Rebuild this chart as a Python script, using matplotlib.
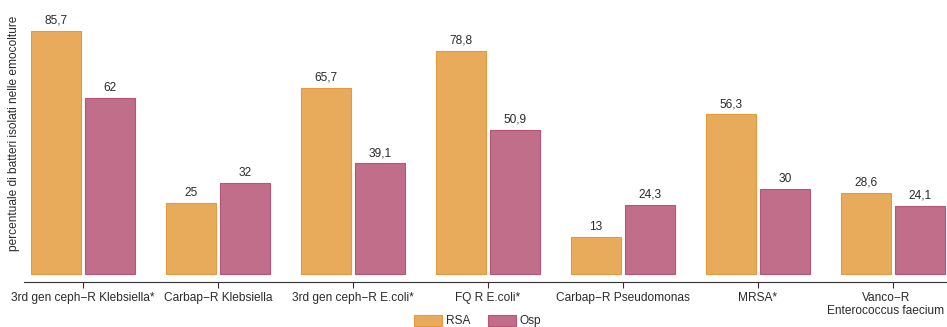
import matplotlib
matplotlib.use("Agg")
import matplotlib.pyplot as plt
import matplotlib.transforms as mtransforms
import numpy as np

categories = ["3rd gen ceph\u2212R Klebsiella*", "Carbap\u2212R Klebsiella",
              "3rd gen ceph\u2212R E.coli*", "FQ R E.coli*",
              "Carbap\u2212R Pseudomonas", "MRSA*", "Vanco\u2212R\nEnterococcus faecium"]
rsa = [85.7, 25, 65.7, 78.8, 13, 56.3, 28.6]
osp = [62, 32, 39.1, 50.9, 24.3, 30, 24.1]
series_names = ["RSA", "Osp"]

plt.rcParams['font.family'] = ['Liberation Sans', 'DejaVu Sans']
FS = 8.6
TXT = "#2b2b2b"

fig = plt.figure(figsize=(9.47, 3.27), dpi=100)
ax = fig.add_axes([24/947, 45/327, 1 - 24/947, (282-5)/327])

x = np.arange(len(categories))
w = 0.37
off = 0.2
c_rsa, e_rsa = "#E8AB5C", "#E39A3A"
c_osp, e_osp = "#C06E89", "#B85577"
b1 = ax.bar(x - off, rsa, w, color=c_rsa, edgecolor=e_rsa, linewidth=0.8, label=series_names[0])
b2 = ax.bar(x + off, osp, w, color=c_osp, edgecolor=e_osp, linewidth=0.8, label=series_names[1])

def fmt(v):
    return ("%g" % v).replace(".", ",")

for bars, vals in ((b1, rsa), (b2, osp)):
    for b, v in zip(bars, vals):
        ax.annotate(fmt(v), (b.get_x() + b.get_width()/2, v), xytext=(0, 3),
                    textcoords="offset points", ha="center", va="bottom",
                    fontsize=FS, color=TXT)

ax.set_xlim(-0.437, 6.4)
ax.set_ylim(-2.82, 94.9)
ax.set_xticks(x)
ax.set_xticklabels(categories, fontsize=FS, color=TXT, linespacing=1.15)
ax.tick_params(axis="x", length=4, width=0.8, color="#333333", pad=3)
# shift last label slightly left so it stays inside the figure
lbl = ax.get_xticklabels()[-1]
lbl.set_transform(lbl.get_transform() + mtransforms.ScaledTranslation(-7/100, 0, fig.dpi_scale_trans))
ax.set_yticks([])
for s in ["left", "right", "top"]:
    ax.spines[s].set_visible(False)
ax.spines["bottom"].set_color("#333333")
ax.spines["bottom"].set_linewidth(0.8)
ax.set_ylabel("percentuale di batteri isolati nelle emocolture", fontsize=FS, color=TXT)
ax.yaxis.set_label_coords(-4/923, 0.538)

leg = fig.legend(handles=[b1, b2], labels=series_names, loc="center",
                 bbox_to_anchor=(478/947, 6/327), ncol=2, frameon=False, fontsize=FS,
                 handlelength=2.35, handleheight=1.1, columnspacing=1.5, handletextpad=0.3,
                 borderpad=0, borderaxespad=0)
for t in leg.get_texts():
    t.set_color(TXT)

fig.savefig("out.png", dpi=100)
